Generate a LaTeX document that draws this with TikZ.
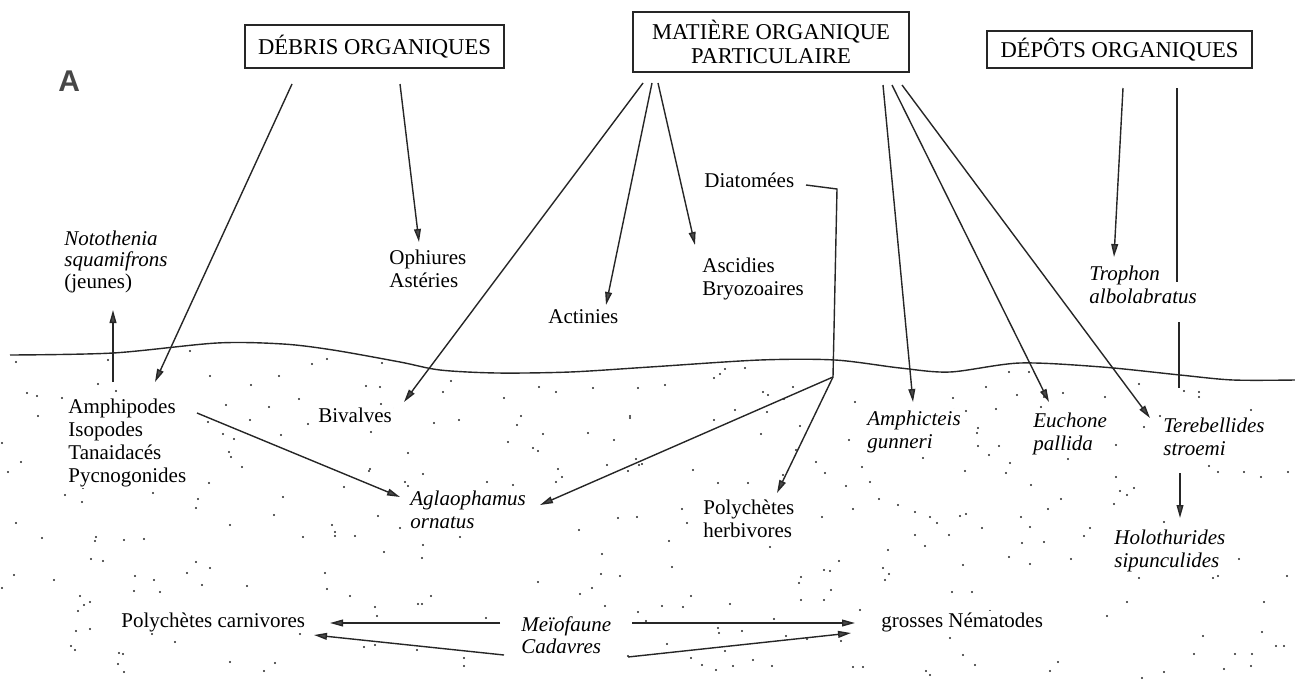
\documentclass[tikz,border=0pt]{standalone}
\usepackage{fontspec}
\setmainfont{Liberation Serif}
\setsansfont{Liberation Sans}
\usetikzlibrary{arrows.meta}
\definecolor{ink}{HTML}{262626}
\definecolor{tipc}{HTML}{4a4a4a}
\begin{document}
\begin{tikzpicture}[x=0.5pt,y=-0.5pt,
  box/.style={draw=ink, line width=0.6pt, inner sep=0pt, font=\fontsize{11.3}{12}\selectfont, align=center},
  lab/.style={inner sep=0.5pt, fill=white, font=\fontsize{10.5}{11.5}\selectfont, align=left, anchor=base west},
  ital/.style={lab, font=\fontsize{10.5}{11.5}\selectfont\itshape},
  arr/.style={draw=ink, line width=0.7pt, -{Triangle[length=6.5pt,width=3.4pt,fill=tipc]}},
  ln/.style={draw=ink, line width=0.7pt},
  surf/.style={draw=ink, line width=0.7pt}
]
\useasboundingbox (0,0) rectangle (1295,680);

% stipple of the sediment
\begin{scope}
\clip plot[smooth] coordinates {(0,355) (113,353) (217,343) (283,344) (333,350) (400,362) (440,370) (497,373) (570,372) (650,367) (760,360) (835,360) (900,368) (950,372) (1020,363) (1102,367) (1180,375) (1233,380) (1295,380)} -- (1295,680) -- (0,680) -- cycle;
\pgfmathsetseed{12}
\foreach \i in {1,...,380}{
  \pgfmathsetmacro{\rx}{random(2,1293)}
  \pgfmathsetmacro{\ry}{random(350,678)}
  \fill[ink] (\rx,\ry) circle[radius=0.55pt];
}
\end{scope}

% label A
\node[font={\fontsize{15}{16}\selectfont\sffamily\bfseries}, text=black!72, anchor=base west, inner sep=0pt] (lblA) at (58,91) {A};

% boxes
\node[box, minimum width=129.5pt, minimum height=21.5pt] (debris) at (374.5,46.5) {DÉBRIS ORGANIQUES};
\node[box, minimum width=138pt, minimum height=30pt] (mop) at (771,42) {MATIÈRE ORGANIQUE\\PARTICULAIRE};
\node[box, minimum width=132.5pt, minimum height=18.5pt] (depots) at (1119.5,49.5) {DÉPÔTS ORGANIQUES};

% labels (the base anchor of a multi-line label is its last line)
\node[ital, font=\fontsize{10.5}{10.75}\selectfont\itshape] (noto) at (63,288) {Notothenia\\squamifrons\\\textup{(jeunes)}};
\node[lab] (oph) at (388,287) {Ophiures\\Astéries};
\node[lab] (act) at (547,323) {Actinies};
\node[lab] (asc) at (701,295) {Ascidies\\Bryozoaires};
\node[lab] (diat) at (703,187) {Diatomées};
\node[ital] (troph) at (1088,303) {Trophon\\albolabratus};
\node[lab] (amph) at (67,482) {Amphipodes\\Isopodes\\Tanaidacés\\Pycnogonides};
\node[lab] (biv) at (317,422) {Bivalves};
\node[ital] (amphic) at (866,448) {Amphicteis\\gunneri};
\node[ital] (euch) at (1032,450) {Euchone\\pallida};
\node[ital] (tereb) at (1162,455) {Terebellides\\stroemi};
\node[ital] (aglao) at (409,528) {Aglaophamus\\ornatus};
\node[lab] (polyh) at (702,537) {Polychètes\\herbivores};
\node[ital] (holo) at (1113,567) {Holothurides\\sipunculides};
\node[lab] (polyc) at (120,627) {Polychètes carnivores};
\node[ital, font=\fontsize{10.5}{10.75}\selectfont\itshape] (meio) at (520,653) {Meïofaune\\Cadavres};
\node[lab] (nema) at (880,627) {grosses Nématodes};

% sediment surface
\draw[surf] plot[smooth] coordinates {(10,355) (113,353) (217,343) (283,344) (333,350) (400,362) (440,370) (497,373) (570,372) (650,367) (760,360) (835,360) (900,368) (950,372) (1020,363) (1102,367) (1180,375) (1233,380) (1295,380)};

% connector end points
\coordinate (d1) at (292,84);   \coordinate (amph-in) at (155,382);
\coordinate (d2) at (400,84);   \coordinate (oph-in) at (419,242);
\coordinate (m1) at (643,83);   \coordinate (biv-in) at (404,402);
\coordinate (m2) at (652,83);   \coordinate (act-in) at (606,305);
\coordinate (m3) at (658,83);   \coordinate (asc-in) at (695,245);
\coordinate (m4) at (883,85);   \coordinate (amphic-in) at (913,402);
\coordinate (m5) at (892,85);   \coordinate (euch-in) at (1049,402);
\coordinate (m6) at (902,85);   \coordinate (tereb-in) at (1150,418);
\coordinate (p1) at (1123,88);  \coordinate (troph-in) at (1114,257);
\coordinate (p2) at (1177,88);  \coordinate (p2a) at (1177,282);
\coordinate (p2b) at (1179,322); \coordinate (p2c) at (1179,388);
\coordinate (p2d) at (1180,473); \coordinate (holo-in) at (1180,518);
\coordinate (amph-up) at (113,382); \coordinate (noto-in) at (113,310);
\coordinate (amph-out) at (197,413); \coordinate (aglao-in1) at (400,497);
\coordinate (diat-out) at (806,185); \coordinate (diat-bend) at (837,189);
\coordinate (junc) at (833,377);
\coordinate (aglao-in2) at (540,505); \coordinate (polyh-in) at (777,493);
\coordinate (meio-l) at (500,623); \coordinate (polyc-in1) at (330,623);
\coordinate (cad-l) at (504,655); \coordinate (polyc-in2) at (314,635);
\coordinate (meio-r) at (632,623); \coordinate (nema-in1) at (855,623);
\coordinate (cad-r) at (628,657); \coordinate (nema-in2) at (851,633);

% connectors
\draw[arr] (d1) -- (amph-in);
\draw[arr] (d2) -- (oph-in);
\draw[arr] (m1) -- (biv-in);
\draw[arr] (m2) -- (act-in);
\draw[arr] (m3) -- (asc-in);
\draw[arr] (m4) -- (amphic-in);
\draw[arr] (m5) -- (euch-in);
\draw[arr] (m6) -- (tereb-in);
\draw[arr] (p1) -- (troph-in);
\draw[ln] (p2) -- (p2a);
\draw[ln] (p2b) -- (p2c);
\draw[arr] (p2d) -- (holo-in);
\draw[arr] (amph-up) -- (noto-in);
\draw[arr] (amph-out) -- (aglao-in1);
\draw[ln] (diat-out) -- (diat-bend) -- (junc);
\draw[arr] (junc) -- (aglao-in2);
\draw[arr] (junc) -- (polyh-in);
\draw[arr] (meio-l) -- (polyc-in1);
\draw[arr] (cad-l) -- (polyc-in2);
\draw[arr] (meio-r) -- (nema-in1);
\draw[arr] (cad-r) -- (nema-in2);
\end{tikzpicture}
\end{document}
